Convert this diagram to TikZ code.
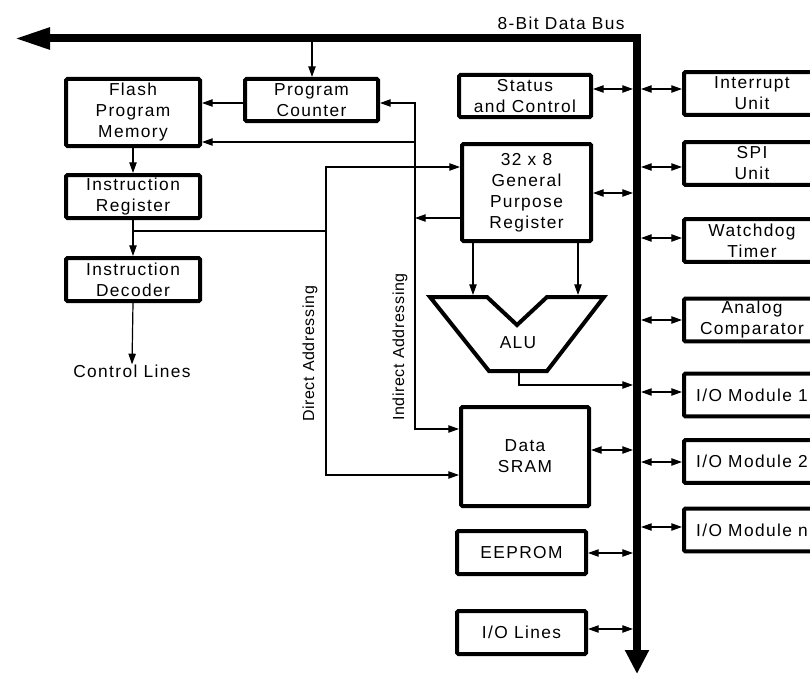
\documentclass[tikz,border=0pt]{standalone}
\usepackage{fontspec}
\setmainfont{Liberation Sans}[LetterSpace=8]
\usetikzlibrary{arrows.meta,calc}
\begin{document}
\begin{tikzpicture}[x=0.75pt,y=-0.75pt,
  font=\fontsize{13}{15.75}\selectfont,
  box/.style={draw, line width=3pt, rounded corners=1pt, fill=white, align=center, inner sep=0pt},
  lbox/.style={box, minimum width=100.5pt, minimum height=32.25pt},
  cbox/.style={box, minimum width=96.75pt, minimum height=32.25pt},
  rbox/.style={box, minimum width=102pt, minimum height=32pt},
  wire/.style={line width=0.9pt},
  arr/.style={wire, -{Triangle[length=8pt,width=5.5pt]}},
  bi/.style={wire, {Triangle[length=8pt,width=5.5pt]}-{Triangle[length=8pt,width=5.5pt]}},
  lab/.style={inner sep=0pt},
  vlab/.style={lab, rotate=90, font=\fontsize{12}{15.75}\selectfont\addfontfeatures{LetterSpace=4}}]
\useasboundingbox (0,0) rectangle (810,674);

% data bus
\draw[line width=6pt, line join=miter, {Triangle[length=27pt,width=15pt]}-{Triangle[length=18pt,width=17pt]}]
  (14,38.5) -- (637,38.5) -- (637,674);
\node[lab] (buslab) at (561,23) {8-Bit Data Bus};

% left column
\node[box, minimum width=100.5pt, minimum height=50.25pt] (flash) at (133,112.5) {Flash\\Program\\Memory};
\node[box, minimum width=99.75pt, minimum height=31.5pt] (pc) at (311.5,100) {Program\\Counter};
\node[lbox] (ir) at (133,196.5) {Instruction\\Register};
\node[lbox] (dec) at (133,279.5) {Instruction\\Decoder};
\node[lab] (ctl) at (132,371) {Control Lines};

% centre column
\node[box, minimum width=99pt, minimum height=31.5pt] (status) at (525,96) {Status\\and Control};
\node[box, minimum width=96.75pt, minimum height=72.75pt] (gpr) at (526.5,192.5) {32 x 8\\General\\Purpose\\Register};
\node[box, minimum width=96pt, minimum height=74.25pt] (sram) at (525,456.5) {Data\\SRAM};
\node[cbox] (eeprom) at (521.5,552.5) {EEPROM};
\node[cbox] (iolines) at (521.5,632.5) {I/O Lines};

% ALU
\draw[line width=3pt, line join=miter] (430,297) -- (487,297) -- (517,325) -- (547,297) -- (604,297)
  -- (547,371) -- (489,371) -- cycle;
\node[lab] (alu) at (518,343) {ALU};

% right column
\node[rbox] (int) at (752,93.5) {Interrupt\\Unit};
\node[rbox] (spi) at (752,163.5) {SPI\\Unit};
\node[rbox] (wdt) at (752,240.5) {Watchdog\\Timer};
\node[rbox] (ana) at (752,320) {Analog\\Comparator};
\node[rbox] (io1) at (752,395) {I/O Module 1};
\node[rbox] (io2) at (752,461.5) {I/O Module 2};
\node[rbox] (ion) at (752,530) {I/O Module n};

% addressing labels
\node[vlab] (dlab) at (310,354) {Direct Addressing};
\node[vlab] (ilab) at (400,347) {Indirect Addressing};

% program flow
\coordinate (pcin) at (312,42);
\draw[arr] (pcin) -- (pcin |- pc.north);
\draw[arr] ($(pc.west)+(0,3)$) -- ($(flash.east)+(0,-9.5)$);
\draw[arr] (flash.south) -- (ir.north);
\draw[arr] (ir.south) -- (dec.north);
\draw[arr] (dec.south) -- (ctl.north);

% indirect addressing
\coordinate (ind) at (415,218);
\coordinate (indf) at (415,142);
\draw[arr] (ind) |- ($(pc.east)+(0,3)$);
\draw[arr] (indf) -- ($(flash.east)+(0,29.5)$);
\draw[arr] (ind) |- ($(sram.west)+(0,-27.5)$);
\draw[arr] ($(gpr.west)+(0,25.5)$) -- (ind);

% direct addressing
\coordinate (dir) at (326,231);
\draw[wire] (ir.south |- dir) -- (dir);
\draw[arr] (dir) |- ($(gpr.west)+(0,-25.5)$);
\draw[arr] (dir) |- ($(sram.west)+(0,18.5)$);

% ALU connections
\coordinate (alua) at (473,295);
\coordinate (alub) at (578,295);
\draw[arr] (gpr.south -| alua) -- (alua);
\draw[arr] (gpr.south -| alub) -- (alub);
\coordinate (aluo) at (519,372);
\coordinate (busin) at (633,385);
\draw[arr] (aluo) |- (busin);

% bus connections, left
\draw[bi] ($(status.east)+(0,-7)$) -- ++(40,0);
\draw[bi] ($(gpr.east)+(0,0.5)$) -- ++(40,0);
\draw[bi] ($(sram.east)+(0,-6.5)$) -- ++(42,0);
\draw[bi] ($(eeprom.east)+(0,0.5)$) -- ++(45,0);
\draw[bi] ($(iolines.east)+(0,-3.5)$) -- ++(45,0);

% bus connections, right
\draw[bi] ($(int.west)+(0,-4.5)$) -- ++(-41,0);
\draw[bi] ($(spi.west)+(0,3.5)$) -- ++(-41,0);
\draw[bi] ($(wdt.west)+(0,-2.5)$) -- ++(-41,0);
\draw[bi] (ana.west) -- ++(-41,0);
\draw[bi] ($(io1.west)+(0,-3)$) -- ++(-41,0);
\draw[bi] ($(io2.west)+(0,0.5)$) -- ++(-41,0);
\draw[bi] ($(ion.west)+(0,-3)$) -- ++(-41,0);
\end{tikzpicture}
\end{document}
